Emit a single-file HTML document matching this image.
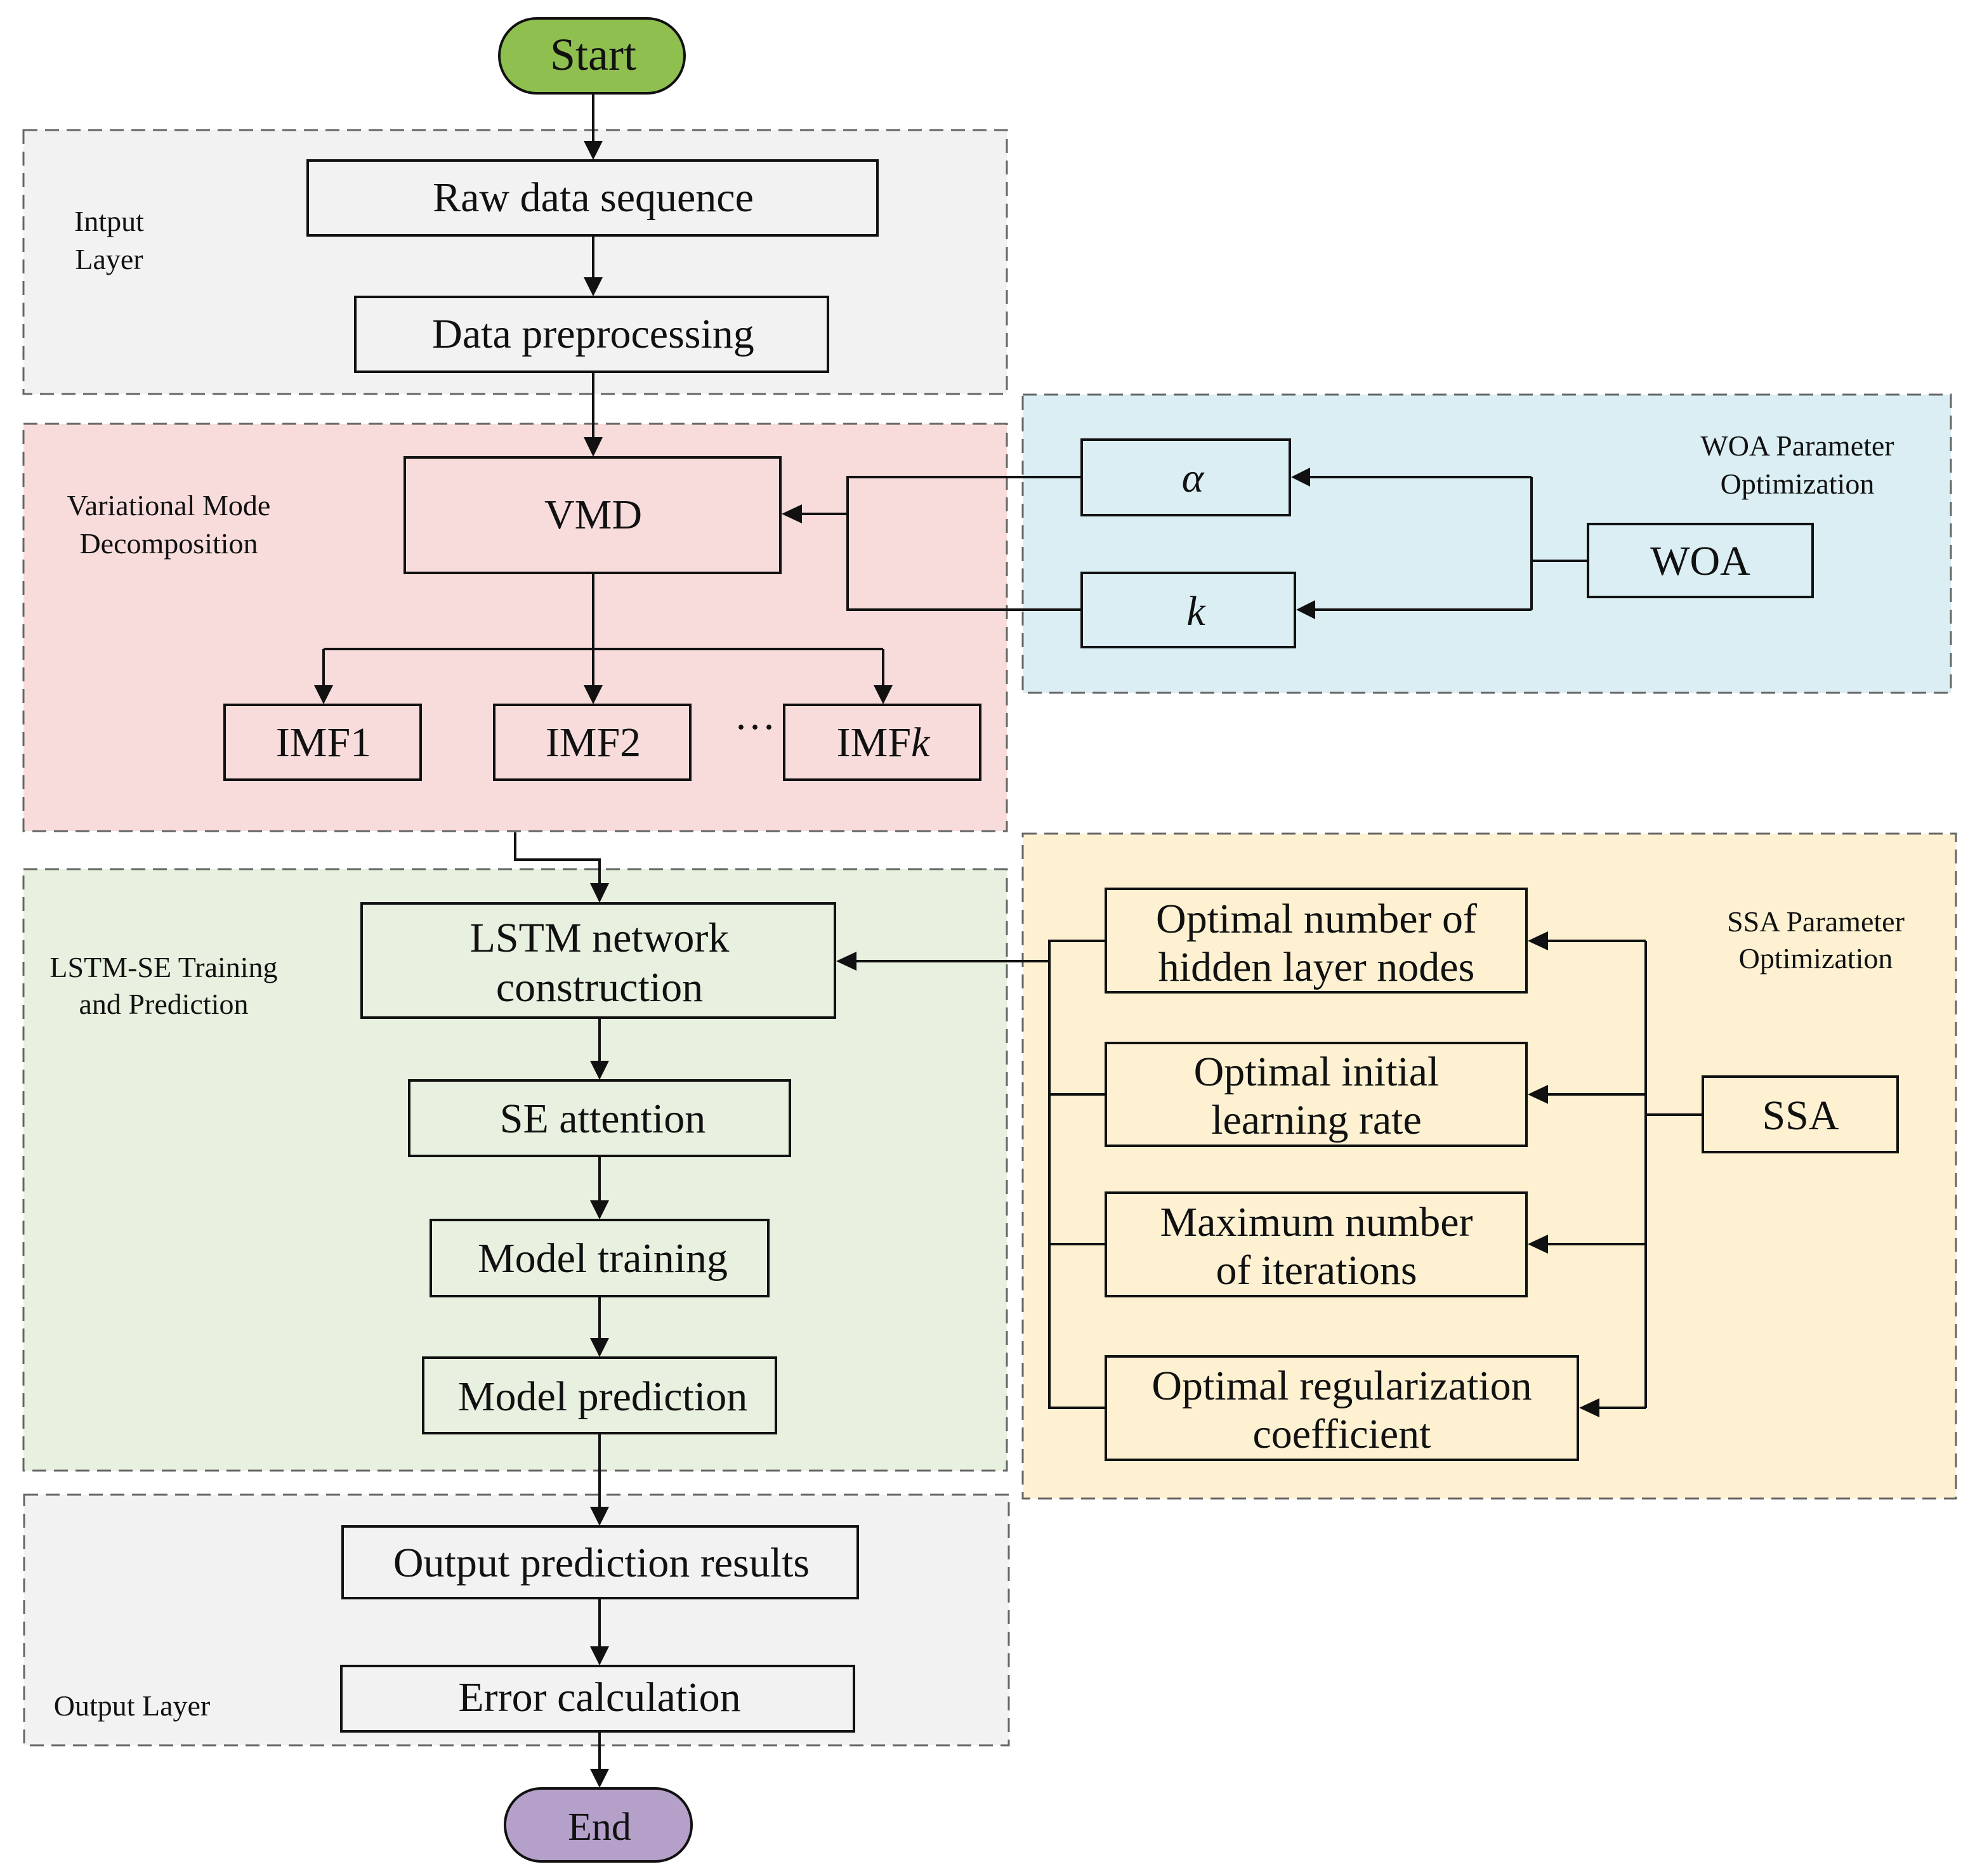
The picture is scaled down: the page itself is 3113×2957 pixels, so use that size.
<!DOCTYPE html>
<html><head><meta charset="utf-8"><style>
html,body{margin:0;padding:0;background:#fff;}
svg{display:block;}
text{font-family:"Liberation Serif",serif;fill:#111;}
</style></head><body>
<svg width="3113" height="2957" viewBox="0 0 3113 2957" xmlns="http://www.w3.org/2000/svg">
<!-- regions -->
<g stroke="#666" stroke-width="3" stroke-dasharray="22,12">
<rect x="37" y="205" width="1550" height="416" fill="#f2f2f2"/>
<rect x="37" y="668" width="1550" height="642" fill="#f8dcdc"/>
<rect x="1612" y="622" width="1463" height="470" fill="#daeef3"/>
<rect x="37" y="1370" width="1550" height="948" fill="#e8f0df"/>
<rect x="1612" y="1314" width="1471" height="1048" fill="#fdf1d2"/>
<rect x="38" y="2356" width="1552" height="395" fill="#f2f2f2"/>
</g>
<!-- start/end -->
<rect x="787" y="29" width="292" height="118" rx="59" fill="#8fbf4f" stroke="#111" stroke-width="4"/>
<text x="935" y="110" font-size="72" text-anchor="middle">Start</text>
<rect x="796" y="2819" width="294" height="115" rx="57" fill="#b4a0c8" stroke="#111" stroke-width="4"/>
<text x="945" y="2900" font-size="62" text-anchor="middle">End</text>
<!-- boxes -->
<g stroke="#111" stroke-width="4" fill="none">
<rect x="485" y="253" width="898" height="118"/>
<rect x="560" y="468" width="745" height="118"/>
<rect x="638" y="721" width="592" height="182"/>
<rect x="354" y="1111" width="309" height="118"/>
<rect x="779" y="1111" width="309" height="118"/>
<rect x="1236" y="1111" width="309" height="118"/>
<rect x="1705" y="693" width="328" height="119"/>
<rect x="1705" y="903" width="336" height="117"/>
<rect x="2503" y="826" width="354" height="115"/>
<rect x="570" y="1424" width="746" height="180"/>
<rect x="645" y="1703" width="600" height="119"/>
<rect x="679" y="1923" width="532" height="120"/>
<rect x="667" y="2140" width="556" height="119"/>
<rect x="540" y="2406" width="812" height="113"/>
<rect x="538" y="2626" width="808" height="103"/>
<rect x="1743" y="1401" width="663" height="163"/>
<rect x="1743" y="1644" width="663" height="162"/>
<rect x="1743" y="1880" width="663" height="163"/>
<rect x="1743" y="2138" width="744" height="163"/>
<rect x="2684" y="1697" width="307" height="119"/>
</g>
<!-- lines -->
<g stroke="#111" stroke-width="4" fill="none">
<path d="M935 147 V225"/>
<path d="M935 371 V440"/>
<path d="M935 586 V690"/>
<path d="M935 903 V1083 M510 1023 H1392 M510 1023 V1083 M1392 1023 V1083"/>
<path d="M1705 752 H1336 V961 H1705 M1336 810 H1260"/>
<path d="M2503 884 H2414 M2414 752 V961 M2414 752 H2063 M2414 961 H2071"/>
<path d="M812 1312 V1355 H945 V1395"/>
<path d="M945 1604 V1675 M945 1822 V1895 M945 2043 V2112 M945 2259 V2378 M945 2519 V2598 M945 2729 V2791"/>
<path d="M1743 1483 H1654 V2219 H1743 M1654 1725 H1743 M1654 1961 H1743 M1654 1515 H1346"/>
<path d="M2684 1757 H2594 M2594 1483 V2219 M2594 1483 H2436 M2594 1725 H2436 M2594 1961 H2436 M2594 2219 H2517"/>
</g>
<!-- arrowheads -->
<g fill="#111">
<path d="M920 222 L950 222 L935 252Z"/>
<path d="M920 437 L950 437 L935 467Z"/>
<path d="M920 689 L950 689 L935 720Z"/>
<path d="M495 1080 L525 1080 L510 1110Z"/>
<path d="M920 1080 L950 1080 L935 1110Z"/>
<path d="M1377 1080 L1407 1080 L1392 1110Z"/>
<path d="M1232 810 L1264 795 L1264 825Z"/>
<path d="M2035 752 L2065 737 L2065 767Z"/>
<path d="M2043 961 L2073 946 L2073 976Z"/>
<path d="M930 1392 L960 1392 L945 1423Z"/>
<path d="M930 1672 L960 1672 L945 1702Z"/>
<path d="M930 1892 L960 1892 L945 1922Z"/>
<path d="M930 2109 L960 2109 L945 2139Z"/>
<path d="M930 2375 L960 2375 L945 2405Z"/>
<path d="M930 2595 L960 2595 L945 2625Z"/>
<path d="M930 2788 L960 2788 L945 2818Z"/>
<path d="M1318 1515 L1350 1500 L1350 1530Z"/>
<path d="M2408 1483 L2440 1468 L2440 1498Z"/>
<path d="M2408 1725 L2440 1710 L2440 1740Z"/>
<path d="M2408 1961 L2440 1946 L2440 1976Z"/>
<path d="M2489 2219 L2521 2204 L2521 2234Z"/>
</g>
<!-- box text -->
<g font-size="66" text-anchor="middle">
<text x="935" y="333">Raw data sequence</text>
<text x="935" y="548">Data preprocessing</text>
<text x="935" y="833">VMD</text>
<text x="510" y="1192">IMF1</text>
<text x="935" y="1192">IMF2</text>
<text x="1190" y="1168">···</text>
<text x="1392" y="1192">IMF<tspan font-style="italic">k</tspan></text>
<text x="1880" y="775" font-style="italic">α</text>
<text x="1885" y="985" font-style="italic">k</text>
<text x="2680" y="906">WOA</text>
<text x="945" y="1500">LSTM network</text>
<text x="945" y="1578">construction</text>
<text x="950" y="1785">SE attention</text>
<text x="950" y="2005">Model training</text>
<text x="950" y="2223">Model prediction</text>
<text x="948" y="2485">Output prediction results</text>
<text x="945" y="2697">Error calculation</text>
<text x="2075" y="1470">Optimal number of</text>
<text x="2075" y="1546">hidden layer nodes</text>
<text x="2075" y="1711">Optimal initial</text>
<text x="2075" y="1787">learning rate</text>
<text x="2075" y="1948">Maximum number</text>
<text x="2075" y="2024">of iterations</text>
<text x="2115" y="2206">Optimal regularization</text>
<text x="2115" y="2282">coefficient</text>
<text x="2838" y="1780">SSA</text>
</g>
<!-- region labels -->
<g font-size="46" text-anchor="middle">
<text x="172" y="364">Intput</text>
<text x="172" y="424">Layer</text>
<text x="266" y="812">Variational Mode</text>
<text x="266" y="872">Decomposition</text>
<text x="258" y="1540">LSTM-SE Training</text>
<text x="258" y="1598">and Prediction</text>
<text x="208" y="2704">Output Layer</text>
<text x="2833" y="718">WOA Parameter</text>
<text x="2833" y="778">Optimization</text>
<text x="2862" y="1468">SSA Parameter</text>
<text x="2862" y="1526">Optimization</text>
</g>
</svg>
</body></html>
